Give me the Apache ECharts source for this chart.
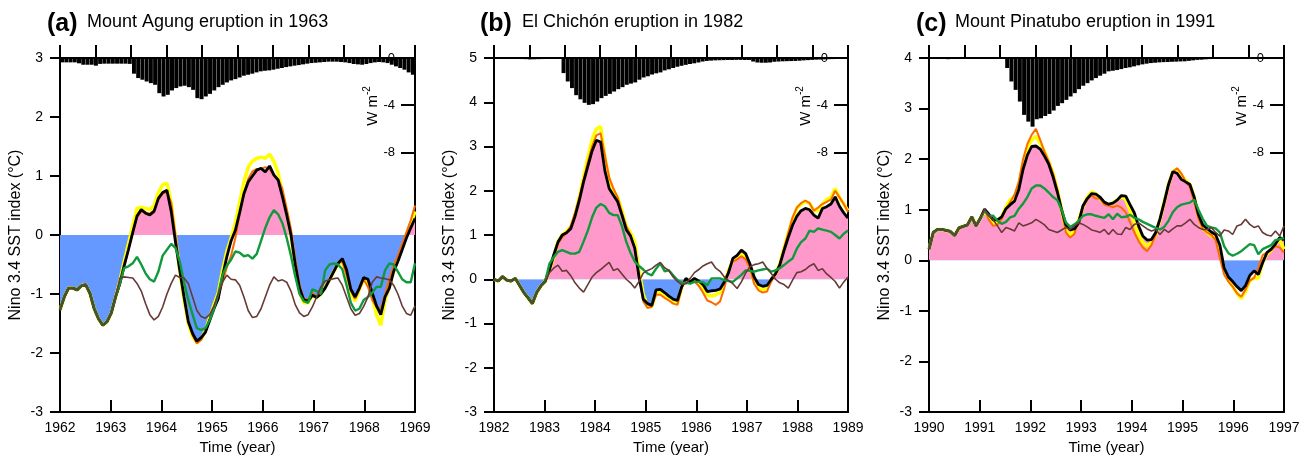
<!DOCTYPE html>
<html><head><meta charset="utf-8">
<script src="https://cdn.jsdelivr.net/npm/echarts@6/dist/echarts.min.js"></script>
<style>html,body{margin:0;padding:0;background:#fff}#c{width:1309px;height:456px}</style>
</head><body><div id="c"></div><script>
// ---------- data (monthly, 7 years per panel) ----------
const startA = 1962, startB = 1982, startC = 1990;
const panelLetters = ['(a)', '(b)', '(c)'];
const panelTitles = ['Mount Agung eruption in 1963', 'El Chichón eruption in 1982', 'Mount Pinatubo eruption in 1991'];
const leftMin = [-3, -3, -3];
const leftMax = [3, 5, 4];
const forcingTicks = [0, -4, -8];

// Panel (a) 1962-1968
const forcingA = [
 -0.37,-0.37,-0.37,-0.37,-0.45,-0.57,-0.57,-0.57,-0.65,-0.50,-0.48,-0.48,
 -0.48,-0.48,-0.48,-0.48,-0.50,-1.33,-1.70,-1.84,-1.99,-2.13,-2.27,-2.98,
 -3.26,-3.12,-2.75,-2.55,-2.41,-2.35,-2.47,-2.70,-3.40,-3.49,-3.26,-3.04,
 -2.75,-2.47,-2.27,-2.07,-1.90,-1.79,-1.65,-1.50,-1.42,-1.33,-1.22,-1.13,
 -1.08,-1.05,-0.99,-0.91,-0.85,-0.77,-0.71,-0.65,-0.60,-0.54,-0.48,-0.43,
 -0.40,-0.37,-0.34,-0.31,-0.31,-0.31,-0.34,-0.37,-0.43,-0.51,-0.54,-0.57,
 -0.51,-0.43,-0.37,-0.34,-0.37,-0.43,-0.57,-0.71,-0.85,-0.99,-1.22,-1.42];
const blackA = [
 -1.27,-1.05,-0.90,-0.90,-0.93,-0.86,-0.84,-0.99,-1.25,-1.42,-1.53,-1.47,
 -1.32,-1.05,-0.82,-0.52,-0.25,0.04,0.32,0.43,0.37,0.34,0.40,0.62,
 0.72,0.76,0.40,-0.12,-0.60,-1.05,-1.47,-1.67,-1.80,-1.74,-1.65,-1.45,
 -1.25,-1.08,-0.70,-0.37,-0.10,0.08,0.38,0.70,0.90,1.00,1.10,1.13,
 1.07,1.17,1.02,0.93,0.65,0.34,0.00,-0.50,-0.90,-1.10,-1.12,-1.02,
 -1.06,-1.00,-0.90,-0.76,-0.62,-0.48,-0.40,-0.59,-0.92,-1.05,-0.90,-0.72,
 -0.75,-0.98,-1.20,-1.35,-1.05,-0.90,-0.62,-0.45,-0.25,-0.05,0.12,0.28];
const yellowA = [
 -1.27,-1.05,-0.90,-0.90,-0.93,-0.86,-0.84,-0.99,-1.25,-1.42,-1.53,-1.47,
 -1.32,-1.05,-0.78,-0.45,-0.15,0.15,0.45,0.47,0.45,0.43,0.50,0.72,
 0.85,0.88,0.55,-0.05,-0.60,-1.10,-1.50,-1.72,-1.82,-1.76,-1.62,-1.40,
 -1.18,-0.98,-0.60,-0.28,-0.05,0.20,0.55,0.90,1.15,1.25,1.30,1.32,
 1.30,1.37,1.25,1.05,0.70,0.38,0.00,-0.55,-0.95,-1.15,-1.15,-1.02,
 -1.06,-1.00,-0.88,-0.76,-0.62,-0.50,-0.45,-0.65,-0.98,-1.12,-0.92,-0.75,
 -0.80,-1.05,-1.35,-1.53,-1.10,-0.88,-0.60,-0.42,-0.22,0.00,0.18,0.40];
const orangeA = [
 -1.27,-1.05,-0.90,-0.90,-0.93,-0.86,-0.84,-0.99,-1.25,-1.42,-1.53,-1.47,
 -1.32,-1.05,-0.84,-0.55,-0.25,0.05,0.30,0.40,0.38,0.36,0.42,0.60,
 0.70,0.73,0.55,0.00,-0.55,-1.05,-1.45,-1.70,-1.84,-1.78,-1.62,-1.42,
 -1.22,-1.05,-0.80,-0.55,-0.35,-0.05,0.35,0.70,0.95,1.08,1.12,1.12,
 1.15,1.12,1.00,0.95,0.78,0.45,0.10,-0.40,-0.85,-1.08,-1.10,-0.98,
 -1.05,-1.00,-0.88,-0.75,-0.62,-0.48,-0.45,-0.68,-0.95,-1.08,-0.92,-0.75,
 -0.88,-1.10,-1.22,-1.25,-1.00,-0.75,-0.52,-0.35,-0.15,0.05,0.25,0.50];
const greenA = [
 -1.27,-1.05,-0.90,-0.90,-0.93,-0.86,-0.84,-0.99,-1.25,-1.42,-1.53,-1.47,
 -1.32,-1.05,-0.82,-0.56,-0.53,-0.48,-0.37,-0.50,-0.65,-0.75,-0.79,-0.62,
 -0.35,-0.25,-0.15,-0.22,-0.45,-0.80,-1.10,-1.35,-1.58,-1.61,-1.58,-1.44,
 -1.25,-1.00,-0.68,-0.52,-0.42,-0.28,-0.30,-0.36,-0.34,-0.40,-0.32,-0.10,
 0.12,0.30,0.42,0.35,0.20,-0.05,-0.35,-0.70,-1.00,-1.12,-1.15,-0.92,
 -0.95,-1.00,-0.60,-0.50,-0.48,-0.50,-0.58,-0.85,-1.15,-1.28,-1.25,-1.10,
 -1.05,-0.98,-0.88,-0.88,-0.60,-0.48,-0.50,-0.62,-0.75,-0.80,-0.80,-0.48];
const brownA = [
 -1.27,-1.05,-0.90,-0.90,-0.93,-0.86,-0.84,-0.99,-1.25,-1.42,-1.53,-1.47,
 -1.32,-1.05,-0.73,-0.71,-0.72,-0.73,-0.82,-0.95,-1.16,-1.35,-1.44,-1.38,
 -1.22,-1.00,-0.82,-0.68,-0.72,-0.73,-0.82,-1.05,-1.28,-1.38,-1.41,-1.35,
 -1.20,-1.00,-0.80,-0.68,-0.75,-0.76,-0.85,-1.05,-1.28,-1.40,-1.38,-1.25,
 -1.05,-0.85,-0.71,-0.78,-0.76,-0.80,-0.95,-1.18,-1.32,-1.38,-1.35,-1.22,
 -1.05,-0.88,-0.78,-0.76,-0.74,-0.73,-0.85,-1.05,-1.25,-1.36,-1.33,-1.21,
 -1.05,-0.80,-0.71,-0.73,-0.74,-0.76,-0.85,-1.00,-1.20,-1.33,-1.36,-1.20];

// Panel (b) 1982-1988
const forcingB = [
 -0.05,-0.05,-0.06,-0.06,-0.07,-0.08,-0.09,-0.10,-0.12,-0.11,-0.10,-0.09,
 -0.08,-0.08,-0.07,-0.07,-1.28,-1.99,-2.55,-3.15,-3.50,-3.80,-3.97,-3.91,
 -3.69,-3.40,-3.21,-3.04,-2.84,-2.64,-2.47,-2.27,-2.17,-2.07,-1.84,-1.65,
 -1.55,-1.40,-1.30,-1.22,-1.05,-0.96,-0.85,-0.74,-0.66,-0.58,-0.51,-0.45,
 -0.38,-0.30,-0.25,-0.22,-0.20,-0.19,-0.18,-0.17,-0.17,-0.16,-0.16,-0.17,
 -0.17,-0.30,-0.38,-0.40,-0.40,-0.38,-0.32,-0.30,-0.28,-0.27,-0.26,-0.25,
 -0.23,-0.20,-0.18,-0.16,-0.14,-0.13,-0.12,-0.10,-0.09,-0.08,-0.07,-0.06];
const blackB = [
 0.00,-0.04,0.06,-0.02,-0.04,0.02,-0.14,-0.30,-0.42,-0.55,-0.30,-0.15,
 -0.05,0.22,0.55,0.84,1.00,1.05,1.14,1.42,1.78,2.20,2.55,2.90,
 3.14,3.10,2.45,2.05,1.90,1.75,1.45,1.12,0.98,0.70,0.05,-0.45,
 -0.55,-0.59,-0.24,-0.23,-0.30,-0.38,-0.45,-0.48,-0.17,0.02,-0.06,0.02,
 -0.04,-0.12,-0.28,-0.26,-0.25,-0.22,-0.06,0.15,0.47,0.54,0.66,0.58,
 0.35,0.05,-0.12,-0.16,-0.14,0.00,0.12,0.32,0.65,0.95,1.22,1.42,
 1.55,1.60,1.57,1.45,1.38,1.60,1.64,1.70,1.86,1.65,1.50,1.38];
const yellowB = [
 0.00,-0.04,0.06,-0.02,-0.04,0.02,-0.14,-0.30,-0.42,-0.55,-0.30,-0.15,
 -0.05,0.20,0.50,0.85,1.00,1.08,1.18,1.45,1.85,2.30,2.75,3.15,
 3.40,3.45,2.75,2.25,2.00,1.85,1.55,1.20,1.05,0.85,0.20,-0.35,
 -0.60,-0.62,-0.30,-0.30,-0.35,-0.42,-0.50,-0.55,-0.18,0.00,-0.05,0.00,
 -0.10,-0.20,-0.35,-0.38,-0.35,-0.30,-0.10,0.20,0.42,0.50,0.55,0.50,
 0.30,-0.05,-0.20,-0.25,-0.20,0.00,0.12,0.35,0.70,1.05,1.35,1.60,
 1.70,1.75,1.72,1.55,1.55,1.70,1.80,1.85,2.05,1.85,1.70,1.55];
const orangeB = [
 0.00,-0.04,0.06,-0.02,-0.04,0.02,-0.14,-0.30,-0.42,-0.55,-0.30,-0.15,
 -0.05,0.20,0.48,0.80,0.95,1.05,1.20,1.50,1.85,2.25,2.65,3.00,
 3.25,3.30,2.80,2.30,2.05,1.85,1.50,1.20,1.00,0.70,0.10,-0.50,
 -0.65,-0.62,-0.35,-0.35,-0.42,-0.48,-0.55,-0.58,-0.20,0.00,-0.08,-0.05,
 -0.15,-0.30,-0.48,-0.52,-0.58,-0.50,-0.20,0.20,0.40,0.45,0.52,0.45,
 0.25,-0.10,-0.25,-0.30,-0.28,-0.05,0.12,0.35,0.70,1.05,1.40,1.62,
 1.72,1.78,1.72,1.55,1.62,1.70,1.75,1.80,2.00,1.85,1.70,1.52];
const greenB = [
 0.00,-0.04,0.06,-0.02,-0.04,0.02,-0.14,-0.30,-0.42,-0.55,-0.30,-0.15,
 -0.05,0.35,0.50,0.62,0.66,0.62,0.58,0.58,0.62,0.85,1.10,1.40,
 1.62,1.70,1.65,1.50,1.45,1.45,1.20,0.85,0.60,0.40,0.30,0.22,
 0.13,0.09,0.24,0.36,0.18,0.20,0.09,-0.02,-0.08,-0.08,-0.10,-0.06,
 -0.06,-0.07,-0.14,0.02,0.02,0.02,-0.02,-0.04,-0.06,0.02,0.10,0.20,
 0.19,0.17,0.20,0.22,0.24,0.17,0.20,0.25,0.32,0.40,0.47,0.69,
 0.84,0.92,1.10,1.07,1.15,1.12,1.10,1.07,1.00,0.92,1.03,1.10];
const brownB = [
 0.00,-0.04,0.06,-0.02,-0.04,0.02,-0.14,-0.30,-0.42,-0.55,-0.30,-0.15,
 -0.05,0.15,0.25,0.32,0.18,0.20,0.08,-0.08,-0.20,-0.29,-0.12,0.05,
 0.15,0.22,0.30,0.38,0.20,0.24,0.12,0.00,-0.08,-0.20,-0.05,0.14,
 0.20,0.24,0.32,0.38,0.26,0.20,0.05,-0.05,-0.12,-0.10,0.02,0.15,
 0.22,0.30,0.35,0.39,0.25,0.18,0.05,-0.03,-0.10,-0.21,-0.06,0.14,
 0.28,0.33,0.35,0.39,0.25,0.13,0.00,-0.08,-0.12,-0.20,-0.02,0.15,
 0.17,0.22,0.30,0.35,0.20,0.24,0.12,0.04,-0.05,-0.20,-0.06,0.05];

// Panel (c) 1990-1996
const forcingC = [
 -0.04,-0.04,-0.05,-0.08,-0.10,-0.06,-0.05,-0.05,-0.05,-0.06,-0.06,-0.06,
 -0.06,-0.06,-0.06,-0.07,-0.07,-0.08,-0.85,-1.99,-2.70,-3.69,-4.82,-5.39,
 -5.82,-5.19,-5.11,-4.91,-4.74,-4.45,-4.06,-3.83,-3.55,-3.26,-2.98,-2.64,
 -2.35,-2.13,-1.90,-1.70,-1.50,-1.33,-1.13,-1.08,-1.02,-0.94,-0.85,-0.79,
 -0.71,-0.62,-0.54,-0.48,-0.43,-0.40,-0.37,-0.35,-0.34,-0.32,-0.31,-0.29,
 -0.28,-0.24,-0.20,-0.16,-0.14,-0.11,-0.09,-0.08,-0.08,-0.07,-0.07,-0.07,
 -0.06,-0.06,-0.06,-0.06,-0.05,-0.05,-0.05,-0.05,-0.05,-0.05,-0.05,-0.05];
const blackC = [
 0.22,0.55,0.61,0.61,0.59,0.57,0.49,0.64,0.67,0.70,0.86,0.68,
 0.83,1.01,0.91,0.80,0.80,0.86,1.02,1.10,1.17,1.40,1.80,2.08,
 2.25,2.26,2.20,2.06,1.90,1.65,1.35,1.00,0.70,0.60,0.62,0.74,
 1.08,1.22,1.32,1.31,1.25,1.15,1.11,1.13,1.19,1.28,1.27,1.10,
 0.94,0.68,0.48,0.40,0.41,0.55,0.82,1.15,1.50,1.75,1.72,1.60,
 1.55,1.50,1.25,0.90,0.70,0.63,0.56,0.51,0.30,-0.15,-0.33,-0.42,
 -0.52,-0.60,-0.50,-0.30,-0.21,-0.28,-0.05,0.15,0.22,0.32,0.45,0.40];
const yellowC = [
 0.22,0.55,0.61,0.61,0.59,0.57,0.49,0.64,0.67,0.70,0.86,0.68,
 0.83,0.98,0.85,0.72,0.75,0.86,1.05,1.20,1.25,1.50,1.92,2.22,
 2.38,2.45,2.32,2.15,1.95,1.72,1.40,1.00,0.60,0.50,0.58,0.80,
 1.05,1.25,1.35,1.32,1.22,1.12,1.10,1.13,1.20,1.26,1.20,0.98,
 0.75,0.50,0.35,0.28,0.35,0.50,0.80,1.15,1.50,1.75,1.80,1.68,
 1.58,1.50,1.25,0.88,0.62,0.55,0.48,0.45,0.25,-0.18,-0.40,-0.52,
 -0.65,-0.76,-0.62,-0.40,-0.35,-0.35,-0.05,0.12,0.20,0.32,0.40,0.22];
const orangeC = [
 0.22,0.55,0.61,0.61,0.59,0.57,0.49,0.64,0.67,0.70,0.86,0.68,
 0.83,1.00,0.80,0.68,0.70,0.82,1.02,1.15,1.30,1.55,2.00,2.30,
 2.48,2.60,2.38,2.15,1.95,1.72,1.40,1.00,0.55,0.45,0.52,0.80,
 1.05,1.20,1.28,1.22,1.22,1.10,1.08,1.05,1.08,1.04,0.95,0.75,
 0.55,0.38,0.25,0.18,0.30,0.50,0.80,1.12,1.48,1.75,1.82,1.72,
 1.55,1.45,1.15,0.82,0.62,0.55,0.50,0.40,0.05,-0.28,-0.42,-0.52,
 -0.65,-0.72,-0.58,-0.40,-0.35,-0.15,0.10,0.15,0.20,0.28,0.25,0.15];
const greenC = [
 0.22,0.55,0.61,0.61,0.59,0.57,0.49,0.64,0.67,0.70,0.86,0.68,
 0.83,0.98,0.88,0.88,0.78,0.72,0.76,0.85,0.88,1.02,1.12,1.25,
 1.42,1.48,1.48,1.42,1.34,1.25,1.19,1.00,0.75,0.66,0.71,0.78,
 0.88,0.91,0.91,0.88,0.86,0.84,0.91,0.81,0.92,0.85,0.86,0.90,
 0.84,0.81,0.76,0.72,0.68,0.64,0.61,0.66,0.78,0.95,1.05,1.10,
 1.12,1.14,1.20,1.00,0.82,0.68,0.65,0.63,0.55,0.28,0.14,0.09,
 0.13,0.18,0.25,0.32,0.30,0.12,0.22,0.26,0.30,0.40,0.42,0.44];
const brownC = [
 0.22,0.55,0.61,0.61,0.59,0.57,0.49,0.64,0.67,0.70,0.86,0.68,
 0.83,1.01,0.88,0.80,0.68,0.55,0.65,0.62,0.58,0.74,0.68,0.71,
 0.74,0.81,0.76,0.70,0.61,0.58,0.55,0.60,0.65,0.61,0.68,0.74,
 0.71,0.66,0.60,0.58,0.55,0.61,0.51,0.61,0.52,0.51,0.65,0.61,
 0.71,0.74,0.68,0.62,0.58,0.61,0.51,0.61,0.55,0.62,0.68,0.68,
 0.74,0.81,0.71,0.65,0.61,0.61,0.65,0.55,0.48,0.60,0.58,0.51,
 0.68,0.71,0.81,0.71,0.65,0.68,0.55,0.50,0.48,0.58,0.48,0.68];

// ---------- layout / styles ----------
const FONT = '"Liberation Sans", Arial, Helvetica, sans-serif';
const COLORS = { yellow: '#FFFF00', orange: '#FF6A00', black: '#000000', green: '#109A3C', brown: '#663A36', pink: '#FF99CC', blue: '#6699FF' };
const grids = [
  { left: 60, top: 58, width: 355, height: 354 },
  { left: 494, top: 58, width: 354, height: 354 },
  { left: 929, top: 58, width: 355, height: 354 }
];
const titlePos = [ { lx: 47, tx: 87 }, { lx: 480, tx: 522 }, { lx: 916, tx: 955 } ];

function monthCats(start, n) {
  const out = [];
  for (let i = 0; i < n; i++) out.push(String(start + Math.floor(i / 12)) + '-' + String(i % 12 + 1).padStart(2, '0'));
  return out;
}

const panels = [
  { start: startA, forcing: forcingA, black: blackA, yellow: yellowA, orange: orangeA, green: greenA, brown: brownA },
  { start: startB, forcing: forcingB, black: blackB, yellow: yellowB, orange: orangeB, green: greenB, brown: brownB },
  { start: startC, forcing: forcingC, black: blackC, yellow: yellowC, orange: orangeC, green: greenC, brown: brownC }
];

const option = { animation: false, backgroundColor: '#fff', grid: [], xAxis: [], yAxis: [], series: [], graphic: [] };
const axisLineStyle = { color: '#000', width: 2 };

function addGrid(rect) { option.grid.push(Object.assign({ containLabel: false, outerBoundsMode: 'none' }, rect)); return option.grid.length - 1; }
function addX(ax) { option.xAxis.push(ax); return option.xAxis.length - 1; }
function addY(ax) { option.yAxis.push(ax); return option.yAxis.length - 1; }

panels.forEach((p, k) => {
  const g = grids[k];
  const gi = addGrid({ left: g.left, top: g.top, width: g.width, height: g.height });
  const cats = monthCats(p.start, p.black.length);

  addX({
    type: 'value', gridIndex: gi, position: 'bottom', min: p.start, max: p.start + 7, interval: 1,
    axisLine: { show: true, onZero: false, lineStyle: axisLineStyle },
    axisTick: { show: true, inside: true, length: 12, lineStyle: axisLineStyle },
    axisLabel: { show: true, margin: 9, fontSize: 14, color: '#000', fontFamily: FONT, showMinLabel: true, showMaxLabel: true,
      formatter: function (v) { return String(v); } },
    splitLine: { show: false },
    name: 'Time (year)', nameLocation: 'middle', nameGap: 26,
    nameTextStyle: { fontSize: 15, color: '#000', fontFamily: FONT, verticalAlign: 'top' }
  });
  addX({
    type: 'value', gridIndex: gi, position: 'top', min: 0, max: 10, interval: 1,
    axisLine: { show: true, onZero: false, lineStyle: axisLineStyle },
    axisTick: { show: true, inside: false, length: 13, lineStyle: axisLineStyle },
    axisLabel: { show: false }, splitLine: { show: false }
  });
  const xLine = addX({ type: 'category', gridIndex: gi, data: cats, boundaryGap: false, show: false });
  const xBar = addX({ type: 'category', gridIndex: gi, data: cats, boundaryGap: true, show: false });

  const yLeft = addY({
    type: 'value', gridIndex: gi, position: 'left', min: leftMin[k], max: leftMax[k], interval: 1,
    axisLine: { show: true, onZero: false, lineStyle: axisLineStyle },
    axisTick: { show: true, inside: false, length: 10, lineStyle: axisLineStyle },
    axisLabel: { margin: 17, fontSize: 14, color: '#000', fontFamily: FONT },
    splitLine: { show: false },
    name: 'Nino 3.4 SST index (\u00B0C)', nameLocation: 'middle', nameGap: 36, nameRotate: 90,
    nameTextStyle: { fontSize: 16, color: '#000', fontFamily: FONT }
  });
  const yRight = addY({
    type: 'value', gridIndex: gi, position: 'right', min: -30, max: 0,
    axisLine: { show: true, onZero: false, lineStyle: axisLineStyle },
    axisTick: { show: true, inside: true, length: 14, lineStyle: axisLineStyle, customValues: forcingTicks },
    axisLabel: { show: true, inside: true, margin: 20, fontSize: 13, color: '#000', fontFamily: FONT, customValues: forcingTicks },
    splitLine: { show: false }
  });

  // Fill between the black index and zero: two hidden sub-grids (above / below zero) sharing the panel's scale,
  // so each fill is clipped exactly at the zero level.
  const span = leftMax[k] - leftMin[k];
  const hUp = g.height * leftMax[k] / span;
  const gUp = addGrid({ left: g.left, top: g.top, width: g.width, height: hUp });
  const gDn = addGrid({ left: g.left, top: g.top + hUp, width: g.width, height: g.height - hUp });
  const xUp = addX({ type: 'category', gridIndex: gUp, data: cats, boundaryGap: false, show: false });
  const xDn = addX({ type: 'category', gridIndex: gDn, data: cats, boundaryGap: false, show: false });
  const yUp = addY({ type: 'value', gridIndex: gUp, min: 0, max: leftMax[k], show: false });
  const yDn = addY({ type: 'value', gridIndex: gDn, min: leftMin[k], max: 0, show: false });
  option.series.push({
    type: 'line', name: 'fillUp' + k, xAxisIndex: xUp, yAxisIndex: yUp, data: p.black, clip: true,
    symbol: 'none', lineStyle: { width: 0.01, opacity: 0 },
    areaStyle: { color: COLORS.pink, opacity: 1, origin: 0 }, z: 1, silent: true
  });
  option.series.push({
    type: 'line', name: 'fillDn' + k, xAxisIndex: xDn, yAxisIndex: yDn, data: p.black, clip: true,
    symbol: 'none', lineStyle: { width: 0.01, opacity: 0 },
    areaStyle: { color: COLORS.blue, opacity: 1, origin: 0 }, z: 1, silent: true
  });

  const lines = [
    ['yellow', p.yellow, 3.5], ['orange', p.orange, 2], ['black', p.black, 2.8], ['green', p.green, 2.4], ['brown', p.brown, 1.6]
  ];
  lines.forEach((ln, j) => {
    option.series.push({
      type: 'line', name: ln[0] + k, xAxisIndex: xLine, yAxisIndex: yLeft, data: ln[1],
      symbol: 'none', lineStyle: { color: COLORS[ln[0]], width: ln[2] }, z: 3 + j, silent: true
    });
  });
  option.series.push({
    type: 'bar', name: 'forcing' + k, xAxisIndex: xBar, yAxisIndex: yRight, data: p.forcing,
    itemStyle: { color: '#000' }, barCategoryGap: '6%', z: 10, silent: true
  });

  const tp = titlePos[k];
  option.graphic.push({ type: 'text', x: tp.lx, y: 24, style: { text: panelLetters[k], font: 'bold 25px ' + FONT, fill: '#000', verticalAlign: 'middle', align: 'left' } });
  option.graphic.push({ type: 'text', x: tp.tx, y: 22, style: { text: panelTitles[k], font: '18px ' + FONT, fill: '#000', verticalAlign: 'middle', align: 'left' } });
  option.graphic.push({
    type: 'text', x: g.left + g.width - 44, y: g.top + 48, rotation: Math.PI / 2,
    style: {
      text: '{n|W m}{s|-2}', align: 'center', verticalAlign: 'middle', fill: '#000',
      rich: { n: { fontSize: 15, fontFamily: FONT, lineHeight: 18, verticalAlign: 'bottom' }, s: { fontSize: 10, fontFamily: FONT, lineHeight: 10, verticalAlign: 'top' } }
    }
  });
});

const chart = echarts.init(document.getElementById('c'), null, { renderer: 'canvas' });
chart.setOption(option);
</script></body></html>
